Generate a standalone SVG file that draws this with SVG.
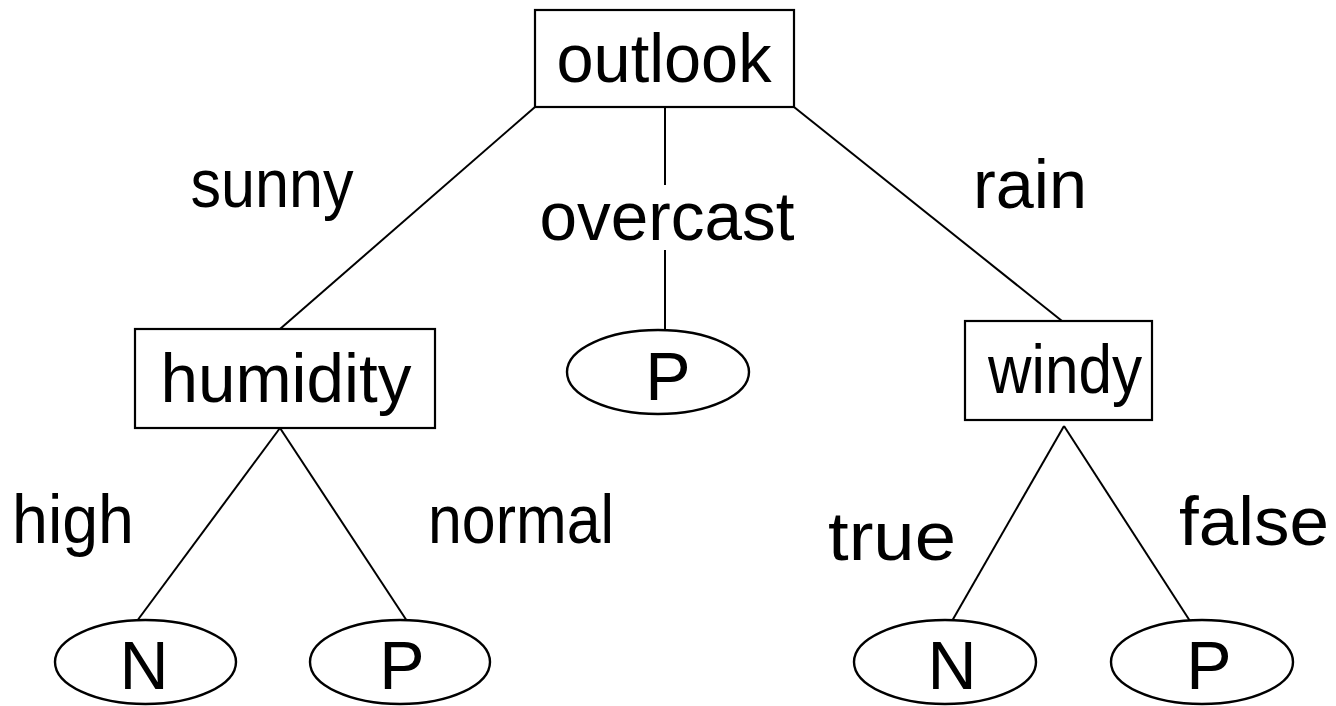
<svg xmlns="http://www.w3.org/2000/svg" width="1336" height="706" viewBox="0 0 1336 706">
  <style>
    .box { fill: #fff; stroke: #000; stroke-width: 2.2; }
    .leaf { fill: #fff; stroke: #000; stroke-width: 2.4; }
    .edge { stroke: #000; stroke-width: 2; fill: none; }
    text { font-family: "Comic Sans MS", "Liberation Sans", sans-serif; font-size: 68px; fill: #000; text-anchor: middle; }
  </style>
  <rect width="1336" height="706" fill="#fff"/>

  <!-- tree edges -->
  <g id="connectors">
    <line class="edge" x1="535" y1="107" x2="280" y2="329"/>
    <line class="edge" x1="665" y1="107" x2="665" y2="185"/>
    <line class="edge" x1="665" y1="250" x2="665" y2="330"/>
    <line class="edge" x1="794" y1="107" x2="1062" y2="321"/>
    <line class="edge" x1="280" y1="428" x2="137" y2="621"/>
    <line class="edge" x1="280" y1="428" x2="407" y2="621"/>
    <line class="edge" x1="1064" y1="426" x2="952" y2="621"/>
    <line class="edge" x1="1064" y1="426" x2="1190" y2="621"/>
  </g>

  <!-- branch labels -->
  <g id="edge-labels">
    <text x="272" y="207" textLength="163" lengthAdjust="spacingAndGlyphs">sunny</text>
    <text x="667" y="240" textLength="255" lengthAdjust="spacingAndGlyphs">overcast</text>
    <text x="1030" y="208" textLength="114" lengthAdjust="spacingAndGlyphs">rain</text>
    <text x="73" y="543" textLength="122" lengthAdjust="spacingAndGlyphs">high</text>
    <text x="521" y="543" textLength="186" lengthAdjust="spacingAndGlyphs">normal</text>
    <text x="892" y="560" textLength="128" lengthAdjust="spacingAndGlyphs">true</text>
    <text x="1254" y="545" textLength="150" lengthAdjust="spacingAndGlyphs">false</text>
  </g>

  <g id="node-outlook">
    <rect class="box" x="535" y="10" width="259" height="97"/>
    <text x="664" y="82" textLength="215" lengthAdjust="spacingAndGlyphs">outlook</text>
  </g>

  <g id="node-humidity">
    <rect class="box" x="135" y="329" width="300" height="99"/>
    <text x="286" y="402" textLength="251" lengthAdjust="spacingAndGlyphs">humidity</text>
  </g>

  <g id="node-windy">
    <rect class="box" x="965" y="321" width="187" height="99"/>
    <text x="1065" y="393" textLength="154" lengthAdjust="spacingAndGlyphs">windy</text>
  </g>

  <g id="leaf-overcast-P">
    <ellipse class="leaf" cx="658" cy="372" rx="91" ry="42"/>
    <text x="668" y="400">P</text>
  </g>

  <g id="leaf-high-N">
    <ellipse class="leaf" cx="145.5" cy="662" rx="90.5" ry="42"/>
    <text x="144" y="689">N</text>
  </g>

  <g id="leaf-normal-P">
    <ellipse class="leaf" cx="400" cy="662" rx="90" ry="42"/>
    <text x="402" y="689">P</text>
  </g>

  <g id="leaf-true-N">
    <ellipse class="leaf" cx="945" cy="662" rx="91" ry="42"/>
    <text x="952" y="689">N</text>
  </g>

  <g id="leaf-false-P">
    <ellipse class="leaf" cx="1202" cy="662" rx="91" ry="42"/>
    <text x="1209" y="689">P</text>
  </g>
</svg>
